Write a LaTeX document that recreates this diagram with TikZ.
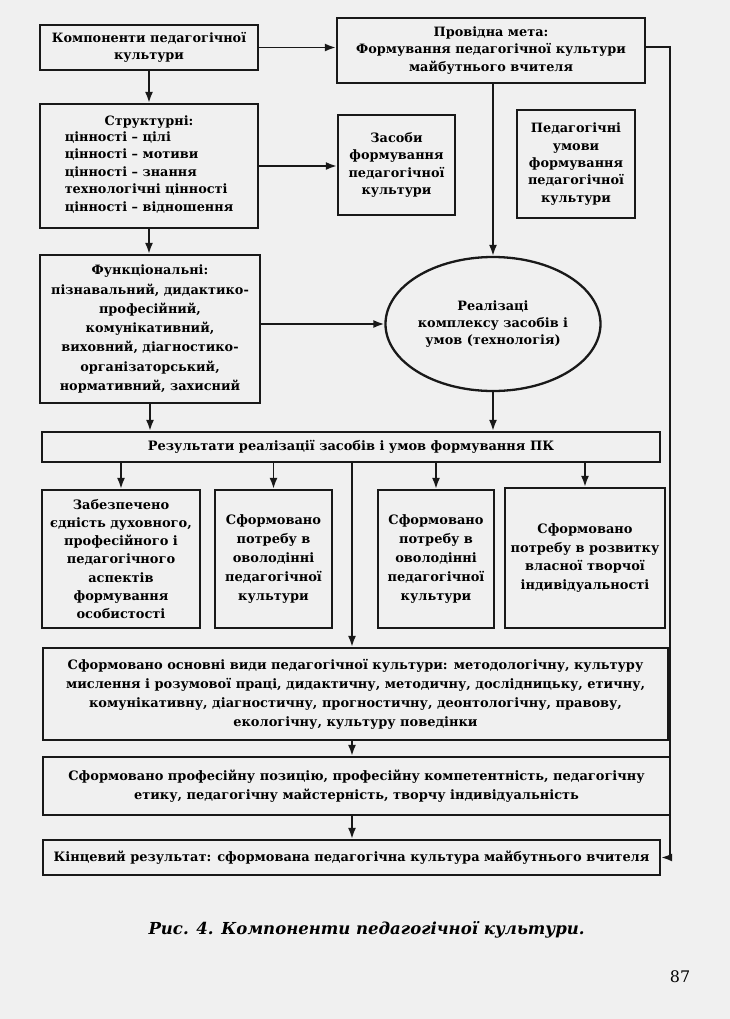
\documentclass[tikz,border=0pt]{standalone}
\usepackage{fontspec}
\setmainfont{DejaVu Serif}
\usetikzlibrary{arrows.meta,shapes.geometric,calc}
\begin{document}
\begin{tikzpicture}[x=1bp,y=-1bp,
  box/.style={draw=black!90, line width=2.3bp, align=center, inner sep=0pt,
    font=\bfseries\fontsize{12.9}{17.5}\selectfont},
  lowbox/.style={box, font=\bfseries\fontsize{13}{19}\selectfont},
  arr/.style={draw=black!90, line width=1.8bp, -{Latex[length=11bp,width=8bp]}},
  ln/.style={draw=black!90, line width=1.8bp}]
\fill[black!6] (0,0) rectangle (730,1019);
\useasboundingbox (0,0) rectangle (730,1019);

\node[box, minimum width=218bp, minimum height=45bp] (A) at (149,47.5)
  {Компоненти педагогічної\\культури};
\node[box, minimum width=308bp, minimum height=65bp] (B) at (491,50.5)
  {Провідна мета:\\Формування педагогічної культури\\майбутнього вчителя};
\node[box, minimum width=218bp, minimum height=124bp] (C) at (149,166)
  {Структурні:\\\begin{tabular}{@{}l@{}}цінності – цілі\\цінності – мотиви\\цінності – знання\\технологічні цінності\\цінності – відношення\end{tabular}};
\node[box, minimum width=117bp, minimum height=100bp] (D) at (396.5,165)
  {Засоби\\формування\\педагогічної\\культури};
\node[box, minimum width=118bp, minimum height=108bp] (E) at (576,164)
  {Педагогічні\\умови\\формування\\педагогічної\\культури};
\node[box, minimum width=220bp, minimum height=148bp,
  font=\bfseries\fontsize{12.9}{19.3}\selectfont] (F) at (150,329)
  {Функціональні:\\пізнавальний, дидактико-\\професійний,\\комунікативний,\\виховний, діагностико-\\організаторський,\\нормативний, захисний};
\node[box, ellipse, minimum width=215bp, minimum height=134bp] (R) at (493,324)
  {Реалізаці\\комплексу засобів і\\умов (технологія)};
\node[lowbox, minimum width=618bp, minimum height=30bp] (G) at (351,447)
  {Результати реалізації засобів і умов формування ПК};
\node[lowbox, minimum width=158bp, minimum height=138bp,
  font=\bfseries\fontsize{13}{18.2}\selectfont] (H1) at (121,559)
  {Забезпечено\\єдність духовного,\\професійного і\\педагогічного\\аспектів\\формування\\особистості};
\node[lowbox, minimum width=117bp, minimum height=138bp] (H2) at (273.5,559)
  {Сформовано\\потребу в\\оволодінні\\педагогічної\\культури};
\node[lowbox, minimum width=116bp, minimum height=138bp] (H3) at (436,559)
  {Сформовано\\потребу в\\оволодінні\\педагогічної\\культури};
\node[lowbox, minimum width=160bp, minimum height=140bp] (H4) at (585,558)
  {Сформовано\\потребу в розвитку\\власної творчої\\індивідуальності};
\node[lowbox, minimum width=625bp, minimum height=92bp] (I) at (355.5,694)
  {Сформовано основні види педагогічної культури: методологічну, культуру\\мислення і розумової праці, дидактичну, методичну, дослідницьку, етичну,\\комунікативну, діагностичну, прогностичну, деонтологічну, правову,\\екологічну, культуру поведінки};
\node[lowbox, minimum width=627bp, minimum height=58bp] (J) at (356.5,786)
  {Сформовано професійну позицію, професійну компетентність, педагогічну\\етику, педагогічну майстерність, творчу індивідуальність};
\node[lowbox, minimum width=617bp, minimum height=35bp] (K) at (351.5,857.5)
  {Кінцевий результат: сформована педагогічна культура майбутнього вчителя};

\node[font=\bfseries\itshape\fontsize{16.6}{20}\selectfont, anchor=west] (cap) at (145,930)
  {Рис. 4. Компоненти педагогічної культури.};
\node[font=\fontsize{16}{18}\selectfont] (pg) at (680,977) {87};

% connectors
\draw[arr] (A.east) -- (A.east -| B.west);
\draw[arr] (A.south) -- (C.north);
\draw[arr] (C.east) -- (C.east -| D.west);
\draw[arr] (C.south) -- (C.south |- F.north);
\draw[arr] (F.east |- R.west) -- (R.west);
\draw[arr] (B.south -| R.north) -- (R.north);
\coordinate (rt) at (670,47);
\draw[arr] (B.east |- rt) -- (rt) |- (K.east);
\draw[arr] (F.south) -- (F.south |- G.north);
\draw[arr] (R.south) -- (R.south |- G.north);
\foreach \h in {H1,H2,H3,H4}{\draw[arr] (\h.north |- G.south) -- (\h.north);}
\coordinate (mid) at (352,0);
\draw[arr] (mid |- G.south) -- (mid |- I.north);
\draw[arr] (mid |- I.south) -- (mid |- J.north);
\draw[arr] (mid |- J.south) -- (mid |- K.north);
\end{tikzpicture}
\end{document}
